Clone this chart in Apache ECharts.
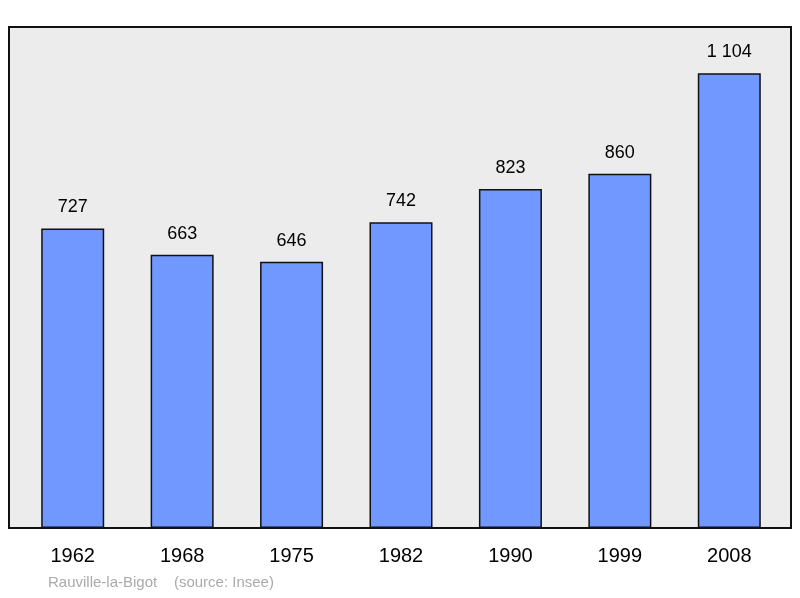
<!DOCTYPE html>
<html><head><meta charset="utf-8">
<script src="https://cdn.jsdelivr.net/npm/echarts@6/dist/echarts.min.js"></script>
<style>html,body{margin:0;padding:0;background:#fff}#c{width:800px;height:598px}</style>
</head><body><div id="c"></div>
<script>
const categories = ['1962','1968','1975','1982','1990','1999','2008'];
const population = [727, 663, 646, 742, 823, 860, 1104];
const chart = echarts.init(document.getElementById('c'));
chart.setOption({
  animation: false,
  graphic: [
    {type:'rect', shape:{x:9,y:27,width:782,height:501}, style:{fill:'#ececec',stroke:'#111',lineWidth:2}, z:-10},
    {type:'text', left:48, top:575, style:{text:'Rauville-la-Bigot    (source: Insee)', fill:'#aaaaaa', font:'15px "Liberation Sans", Arial, sans-serif'}}
  ],
  grid: {left:18, right:16, top:27, bottom:70},
  xAxis: {type:'category', data:categories, axisLine:{show:false}, axisTick:{show:false},
    axisLabel:{color:'#000', fontSize:20, fontFamily:'Liberation Sans, Arial, sans-serif', margin:18}},
  yAxis: {type:'value', min:0, max:1216, show:false, splitLine:{show:false}},
  series: [{type:'bar', data:population, barWidth:63,
    itemStyle:{color:'#7098ff', borderColor:'#111', borderWidth:1.5},
    label:{show:true, position:'top', distance:12, color:'#000', fontSize:18, fontFamily:'Liberation Sans, Arial, sans-serif',
      formatter: p => String(p.value).replace(/\B(?=(\d{3})+(?!\d))/g,' ')}}]
});
</script></body></html>
